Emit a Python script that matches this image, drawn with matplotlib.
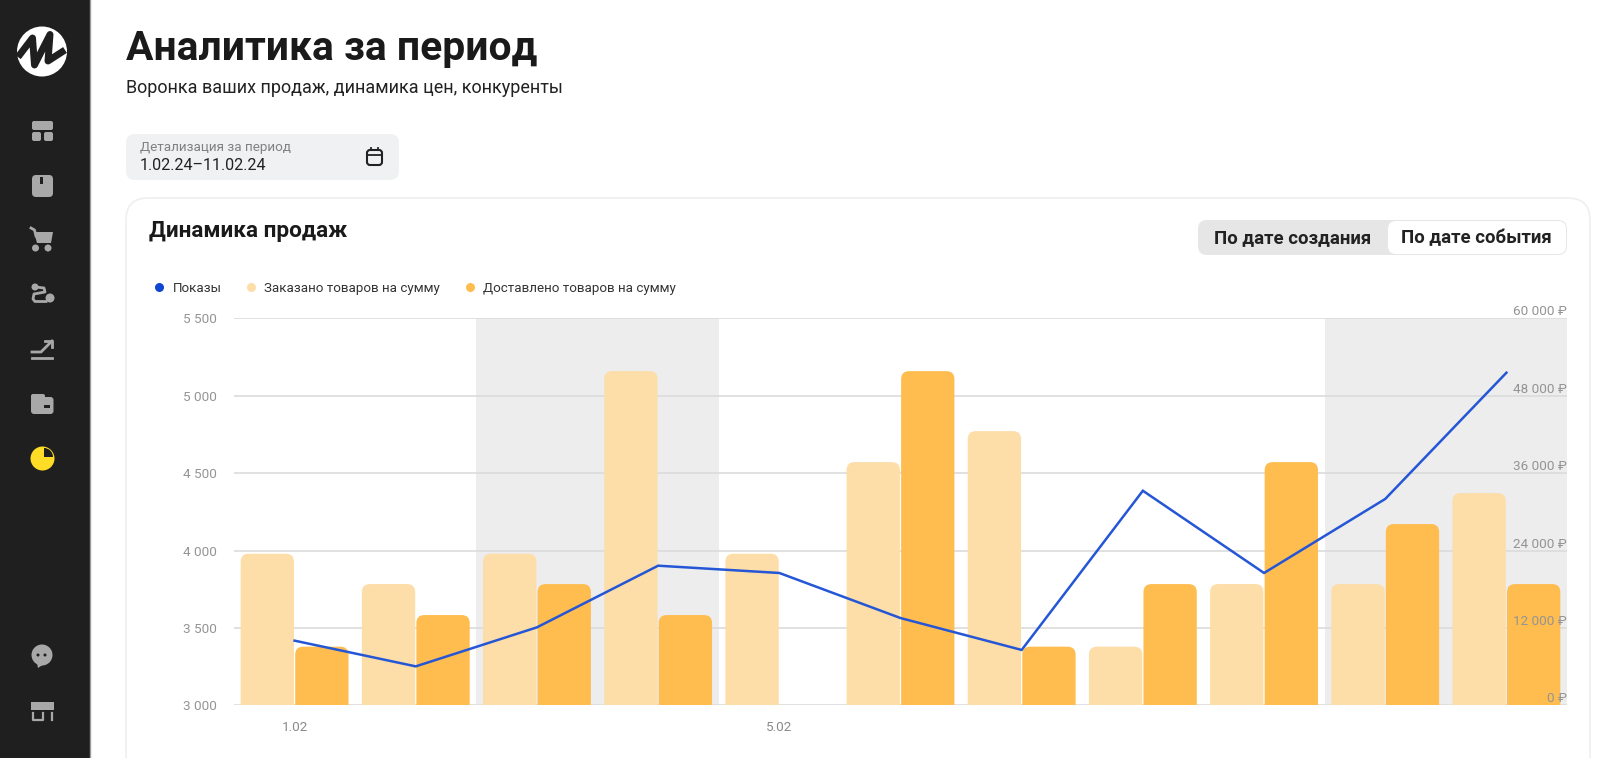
import numpy as np
import matplotlib
matplotlib.use('Agg')
import matplotlib.pyplot as plt
from matplotlib.lines import Line2D
from matplotlib.patches import Circle, FancyBboxPatch, Polygon, Rectangle, Wedge

plt.rcParams['font.family'] = ['Roboto', 'Noto Sans', 'DejaVu Sans']

days = ['1.02', '2.02', '3.02', '4.02', '5.02', '6.02', '7.02', '8.02', '9.02', '10.02', '11.02']
shows = [3418, 3252, 3504, 3902, 3855, 3564, 3358, 4386, 3855, 4333, 5148]
ordered = [23500, 18800, 23500, 51800, 23500, 37700, 42500, 9100, 18800, 18800, 32900]
delivered = [9100, 14000, 18800, 14000, 0, 51800, 9100, 18800, 37700, 28100, 18800]
weekends = [(2, 3), (9, 10)]

left_ticks = [3000, 3500, 4000, 4500, 5000, 5500]
left_labels = ['3 000', '3 500', '4 000', '4 500', '5 000', '5 500']
right_ticks = [0, 12000, 24000, 36000, 48000, 60000]
right_labels = ['0 ₽', '12 000 ₽', '24 000 ₽', '36 000 ₽', '48 000 ₽', '60 000 ₽']
xtick_days = ['1.02', '5.02']

W, H = 1608, 758
DARK = '#1f1f1f'
GREY_ICON = '#a8a8a8'
LABEL = '#949494'
GRID = '#dcdcdc'
BLUE = '#2456d6'
LIGHT = '#fddda8'
ORANGE = '#ffbd4f'


def rbox(ui, x0, y0, x1, y1, r, **kw):
    ui.add_patch(FancyBboxPatch((x0, y0), x1 - x0, y1 - y0,
                                boxstyle=f'round,pad=0,rounding_size={r}', **kw))


def draw_sidebar(ui):
    ui.add_patch(Rectangle((0, 0), 90, H, color=DARK, lw=0))
    ui.plot([90.5, 90.5], [0, H], color='#9a9a9a', lw=1)

    # logo
    ui.add_patch(Circle((42, 51.5), 25, color='white', lw=0))
    ui.plot([18, 32.5, 34.5, 50, 48, 65], [57, 38, 65, 34.5, 61, 50],
            color=DARK, lw=5, solid_joinstyle='round', solid_capstyle='butt')

    g = dict(color=GREY_ICON, lw=0)
    # dashboard
    rbox(ui, 32, 121, 53, 130, 2, **g)
    rbox(ui, 32, 132, 41, 141, 2, **g)
    rbox(ui, 44, 132, 53, 141, 2, **g)
    # box
    rbox(ui, 32, 175, 53, 197, 4, **g)
    ui.add_patch(Rectangle((40.5, 177), 3, 7, color=DARK, lw=0))
    # cart
    ui.plot([31, 34.5, 36], [228, 230, 236], color=GREY_ICON, lw=2)
    ui.add_patch(Polygon([[34, 232], [53, 232], [51, 243], [37, 243]], color=GREY_ICON, lw=0))
    ui.add_patch(Circle((35.5, 248), 3.5, **g))
    ui.add_patch(Circle((48, 248), 3.5, **g))
    # route
    ui.add_patch(Circle((35, 287), 3.5, **g))
    ui.plot([36, 44, 45, 34, 33, 35, 46], [287, 288, 292, 294, 299, 301.5, 301.5],
            color=GREY_ICON, lw=2)
    ui.add_patch(Circle((50, 298), 4.5, **g))
    # growth arrow
    ui.plot([32, 52], [358, 358], color=GREY_ICON, lw=2)
    ui.plot([32, 41, 52], [352, 352, 341], color=GREY_ICON, lw=2)
    ui.plot([45, 52, 52], [340.5, 340.5, 347], color=GREY_ICON, lw=2)
    # wallet
    rbox(ui, 31, 394, 45, 400, 2, **g)
    rbox(ui, 31, 397, 53.5, 414, 3, **g)
    ui.add_patch(Rectangle((44.5, 405), 6, 2.5, color=DARK, lw=0))
    # pie, active page
    ui.add_patch(Circle((42.5, 458.5), 12, color='#ffdc26', lw=0))
    ui.add_patch(Wedge((44, 457), 9, 270, 360, color=DARK, lw=0))
    # chat
    ui.add_patch(Circle((42, 655), 10.5, **g))
    ui.add_patch(Polygon([[37, 663], [44, 664], [38, 668]], **g))
    ui.add_patch(Circle((38, 655), 1.5, color=DARK, lw=0))
    ui.add_patch(Circle((45, 655), 1.5, color=DARK, lw=0))
    # shop
    ui.add_patch(Rectangle((31, 702), 23, 8, **g))
    ui.plot([33, 33, 43, 43], [713, 720, 720, 713], color=GREY_ICON, lw=1.6)
    ui.plot([52, 52], [713, 720], color=GREY_ICON, lw=1.6)


def draw_chrome(ui):
    ui.text(126, 49, 'Аналитика за период', fontsize=29.3, fontweight='bold',
            color='#1a1a1a', va='center')
    ui.text(126, 88, 'Воронка ваших продаж, динамика цен, конкуренты', fontsize=13,
            color='#222222', va='center')

    # date picker
    rbox(ui, 126, 134, 399, 180, 9, color='#f0f1f3', lw=0)
    ui.text(140, 147, 'Детализация за период', fontsize=9.7, color='#808080', va='center')
    ui.text(140, 166, '1.02.24–11.02.24', fontsize=11.6, color='#222222', va='center')
    rbox(ui, 367, 150, 382, 165, 3, fc='none', ec='#222222', lw=1.5)
    ui.plot([367, 382], [155, 155], color='#222222', lw=1.3)
    ui.plot([371, 371], [147.5, 150], color='#222222', lw=1.3)
    ui.plot([378, 378], [147.5, 150], color='#222222', lw=1.3)

    # card, runs off the bottom of the screenshot
    rbox(ui, 126, 198, 1590, 800, 22, fc='white', ec='#efefef', lw=1.2)
    ui.text(149, 231, 'Динамика продаж', fontsize=16.2, fontweight='bold',
            color='#1a1a1a', va='center')

    # toggle
    rbox(ui, 1198, 220, 1567, 255, 9, color='#e6e6e6', lw=0)
    rbox(ui, 1388, 221, 1566, 254, 8, color='white', lw=0)
    ui.text(1293, 238, 'По дате создания', fontsize=13.4, fontweight='bold',
            color='#222222', va='center', ha='center')
    ui.text(1476, 238, 'По дате события', fontsize=13.4, fontweight='bold',
            color='#222222', va='center', ha='center')


def rounded_bars(ax, x, values, width, color):
    # top corners only, the bottom ones fall below the axis and get clipped
    rx = 8 / 121.2
    ry = 8 * 60000 / 387
    for xi, v in zip(x, values):
        if v <= 0:
            continue
        ax.add_patch(FancyBboxPatch((xi, -ry), width, v + ry,
                                    boxstyle=f'round,pad=0,rounding_size={rx}',
                                    mutation_aspect=ry / rx,
                                    fc=color, ec='none', zorder=2))


fig = plt.figure(figsize=(W / 100, H / 100), dpi=100, facecolor='white')

ui = fig.add_axes([0, 0, 1, 1], zorder=0)
ui.set_xlim(0, W)
ui.set_ylim(H, 0)
ui.axis('off')
draw_chrome(ui)
draw_sidebar(ui)

plot_rect = [234 / W, 1 - 705.4 / H, (1567 - 234) / W, (705.4 - 318.2) / H]
ax = fig.add_axes(plot_rect, zorder=2)
ax.patch.set_visible(False)
ax_bars = ax.twinx()
ax_bars.set_zorder(1)
ax_bars.patch.set_visible(False)
ax.set_zorder(2)

x = np.arange(len(days))
bar_w = 0.44

# bars are in roubles and go on the right axis, its labels stay on top of them
for first, last in weekends:
    ax_bars.axvspan(first - 0.5, last + 0.5, color='#ededed', lw=0, zorder=0)
ax_bars.hlines(right_ticks, -0.5, len(days) - 0.5, color=GRID, lw=1.2, zorder=1)
rounded_bars(ax_bars, x - 0.445, ordered, bar_w, LIGHT)
rounded_bars(ax_bars, x + 0.005, delivered, bar_w, ORANGE)
ax_bars.set_axisbelow(False)
ax_bars.set_ylim(0, 60000)
ax_bars.set_yticks(right_ticks)
ax_bars.set_yticklabels(right_labels)
ax_bars.tick_params(axis='y', length=0, pad=0, labelsize=9.7, labelcolor=LABEL)
for lab in ax_bars.get_yticklabels():
    lab.set_ha('right')
    lab.set_va('bottom')

ax.plot(x, shows, color=BLUE, lw=1.8, solid_joinstyle='miter')
ax.set_xlim(-0.5, len(days) - 0.5)
ax.set_ylim(left_ticks[0], left_ticks[-1])
ax.set_yticks(left_ticks)
ax.set_yticklabels(left_labels)
ax.set_xticks([days.index(d) for d in xtick_days])
ax.set_xticklabels(xtick_days)
ax.tick_params(axis='y', length=0, pad=12.4, labelsize=9.7, labelcolor=LABEL)
ax.tick_params(axis='x', length=0, pad=11.5, labelsize=9.7, labelcolor='#8a8a8a')

for a in (ax, ax_bars):
    for s in a.spines.values():
        s.set_visible(False)

handles = [Line2D([], [], ls='none', marker='o', ms=6.5, mec='none', color=c)
           for c in ('#1046d0', LIGHT, ORANGE)]
ax.legend(handles, ['Показы', 'Заказано товаров на сумму', 'Доставлено товаров на сумму'],
          loc='lower left', bbox_to_anchor=(-0.066, 1.06), ncol=3, frameon=False,
          fontsize=9.6, labelcolor='#333333', handletextpad=0.0, columnspacing=1.2,
          borderpad=0, borderaxespad=0)

fig.savefig('out.png', dpi=100, facecolor='white')
